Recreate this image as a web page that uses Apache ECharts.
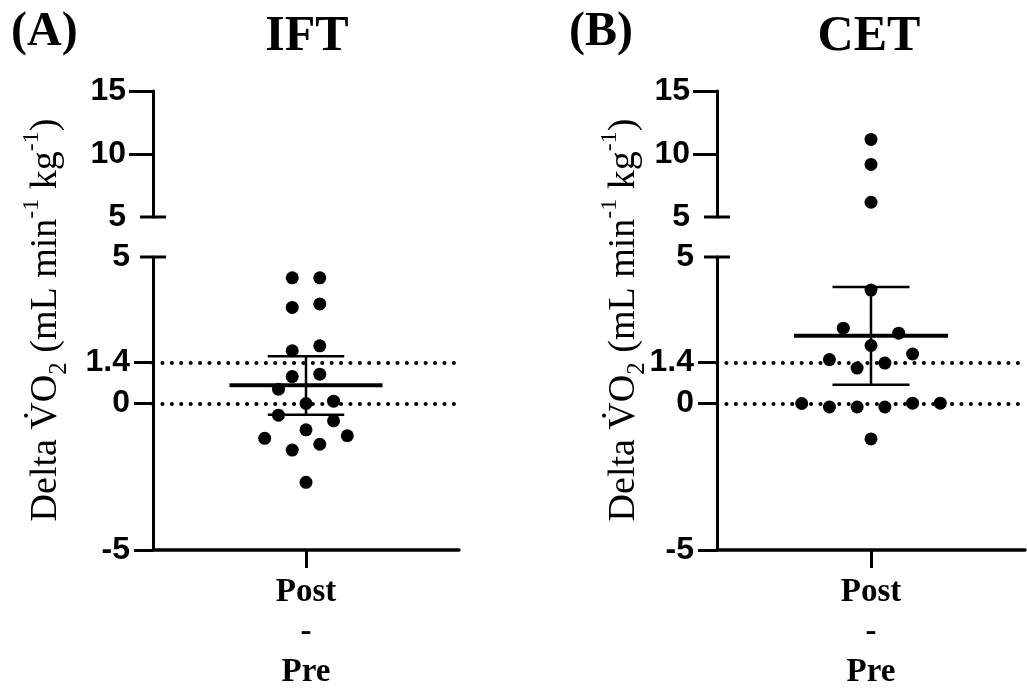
<!DOCTYPE html>
<html><head><meta charset="utf-8">
<script src="https://cdn.jsdelivr.net/npm/echarts@6/dist/echarts.min.js"></script>
<style>html,body{margin:0;padding:0;background:#fff}#c{width:1027px;height:692px}</style>
</head><body><div id="c"></div>
<script>
// ---- data ----
const groups = ['IFT', 'CET'];
const panelTags = ['(A)', '(B)'];
const categoryLabel = 'Post\n-\nPre';
const iftValues = [4.29, 4.29, 3.28, 3.40, 1.80, 1.97, 0.92, 1.00, 0.49, 0.00, 0.08, -0.40, -0.59, -0.90, -1.19, -1.10, -1.39, -1.59, -2.69];
const iftSlots  = [-1, 1, -1, 1, -1, 1, -1, 1, -2, 0, 2, -2, 2, 0, -3, 3, 1, -1, 0];
const cetValues = [11.16, 9.17, 6.17, 3.87, 2.57, 2.40, 1.98, 1.69, 1.50, 1.38, 1.21, 0.00, -0.12, -0.12, -0.12, 0.01, 0.01, -1.21];
const cetSlots  = [0, 0, 0, 0, -2, 2, 0, 3, -3, 1, -1, -5, -3, -1, 1, 3, 5, 0];
const meanValues = [0.62, 2.31];
const errLow = [-0.38, 0.64];
const errHigh = [1.61, 3.98];
const upperTicks = [5, 10, 15];
const lowerTicks = [-5, 0, 1.4, 5];
const refLines = [0, 1.4];
const upperRange = [5, 15];
const lowerRange = [-5, 5];

// ---- layout / style ----
const slotStep = 0.09;
const panels = [{left: 153, width: 306}, {left: 717, width: 308}];
const upperBox = {top: 91, height: 126};
const lowerBox = {top: 257, height: 294};
const tickFont = {fontFamily: 'Liberation Sans', fontWeight: 'bold', fontSize: 32, color: '#000'};
const allValues = [iftValues, cetValues];
const allSlots = [iftSlots, cetSlots];

const grid = [], xAxis = [], yAxis = [], series = [];

function seg(a, b, w) {
  return {type: 'line', shape: {x1: a[0], y1: a[1], x2: b[0], y2: b[1]}, style: {stroke: '#000', lineWidth: w}};
}
function errorRender(params, api) {
  const c = api.value(0), m = api.value(1), lo = api.value(2), hi = api.value(3);
  const p = (x, y) => api.coord([x, y]);
  return {type: 'group', children: [
    seg(p(c - 0.5, m), p(c + 0.5, m), 4),
    seg(p(c, lo), p(c, hi), 2.5),
    seg(p(c - 0.25, lo), p(c + 0.25, lo), 2.5),
    seg(p(c - 0.25, hi), p(c + 0.25, hi), 2.5)
  ]};
}
function capRender(params, api) {
  const pt = api.coord([api.value(0), api.value(1)]);
  return seg([pt[0] - 13, pt[1]], [pt[0] + 13, pt[1]], 3);
}

panels.forEach((pn, k) => {
  const gu = k * 2, gl = k * 2 + 1;
  grid.push({left: pn.left, width: pn.width, top: upperBox.top, height: upperBox.height});
  grid.push({left: pn.left, width: pn.width, top: lowerBox.top, height: lowerBox.height});
  xAxis.push({type: 'value', gridIndex: gu, min: -1, max: 1, show: false});
  xAxis.push({type: 'value', gridIndex: gl, min: -1, max: 1,
    axisLine: {show: true, onZero: false, lineStyle: {color: '#000', width: 3.5}},
    axisTick: {show: true, customValues: [0], length: 18, lineStyle: {color: '#000', width: 3}},
    axisLabel: {show: true, customValues: [0], formatter: () => categoryLabel, margin: 22,
      fontFamily: 'Liberation Serif', fontWeight: 'bold', fontSize: 33, lineHeight: 40, color: '#000'},
    splitLine: {show: false}});
  yAxis.push({type: 'value', gridIndex: gu, min: upperRange[0], max: upperRange[1],
    axisLine: {show: true, onZero: false, lineStyle: {color: '#000', width: 3}},
    axisTick: {show: true, customValues: upperTicks.filter(v => v > upperRange[0]), length: 24, lineStyle: {color: '#000', width: 3}},
    axisLabel: Object.assign({show: true, customValues: upperTicks, margin: 27}, tickFont),
    splitLine: {show: false}});
  yAxis.push({type: 'value', gridIndex: gl, min: lowerRange[0], max: lowerRange[1],
    axisLine: {show: true, onZero: false, lineStyle: {color: '#000', width: 3}},
    axisTick: {show: true, customValues: lowerTicks.filter(v => v < lowerRange[1]), length: 19, lineStyle: {color: '#000', width: 3}},
    axisLabel: Object.assign({show: true, customValues: lowerTicks, margin: 23}, tickFont),
    splitLine: {show: false}});

  const vals = allValues[k], slots = allSlots[k];
  const up = [], low = [];
  vals.forEach((v, i) => {
    const pt = [slots[i] * slotStep, v];
    if (v >= upperRange[0]) up.push(pt); else low.push(pt);
  });
  series.push({type: 'scatter', xAxisIndex: gu, yAxisIndex: gu, data: up, symbol: 'circle', symbolSize: 13,
    itemStyle: {color: '#000', opacity: 1}, silent: true, z: 3});
  series.push({type: 'scatter', xAxisIndex: gl, yAxisIndex: gl, data: low, symbol: 'circle', symbolSize: 13,
    itemStyle: {color: '#000', opacity: 1}, silent: true, z: 3,
    markLine: {silent: true, symbol: 'none', label: {show: false},
      lineStyle: {color: '#000', width: 4, type: [0.1, 9.3], cap: 'round', opacity: 1},
      data: refLines.map(v => ({yAxis: v}))}});
  series.push({type: 'custom', xAxisIndex: gl, yAxisIndex: gl, renderItem: errorRender, clip: false, silent: true, z: 5,
    data: [[0, meanValues[k], errLow[k], errHigh[k]]]});
  series.push({type: 'custom', xAxisIndex: gu, yAxisIndex: gu, renderItem: capRender, clip: false, silent: true, z: 5,
    data: [[-1, upperRange[0]]]});
  series.push({type: 'custom', xAxisIndex: gl, yAxisIndex: gl, renderItem: capRender, clip: false, silent: true, z: 5,
    data: [[-1, lowerRange[1]]]});
});

const yTitle = '{m|Delta V\u0307O}{sub|2}{m| (mL min}{sup|-1}{m| kg}{sup|-1}{m|)}';
const yRich = {
  m: {fontFamily: 'Liberation Serif', fontSize: 38, lineHeight: 52, fill: '#000'},
  sub: {fontFamily: 'Liberation Serif', fontSize: 25, lineHeight: 25, verticalAlign: 'bottom', fill: '#000'},
  sup: {fontFamily: 'Liberation Serif', fontSize: 24, lineHeight: 24, verticalAlign: 'top', fill: '#000'}
};
const graphic = [];
const tagX = [11, 569], titleX = [307, 869], yTitleX = [46, 624];
panels.forEach((pn, k) => {
  graphic.push({type: 'text', x: tagX[k], y: 33, silent: true,
    style: {text: panelTags[k], fontFamily: 'Liberation Serif', fontWeight: 'bold', fontSize: 48, fill: '#000', align: 'left', verticalAlign: 'middle'}});
  graphic.push({type: 'text', x: titleX[k], y: 37, silent: true,
    style: {text: groups[k], fontFamily: 'Liberation Serif', fontWeight: 'bold', fontSize: 50, fill: '#000', align: 'center', verticalAlign: 'middle'}});
  graphic.push({type: 'text', x: yTitleX[k], y: 320, rotation: Math.PI / 2, silent: true,
    style: {text: yTitle, rich: yRich, fontFamily: 'Liberation Serif', fontSize: 38, fill: '#000', align: 'center', verticalAlign: 'middle'}});
});

const chart = echarts.init(document.getElementById('c'), null, {renderer: 'canvas'});
chart.setOption({animation: false, backgroundColor: '#fff', grid, xAxis, yAxis, series, graphic});
</script></body></html>
